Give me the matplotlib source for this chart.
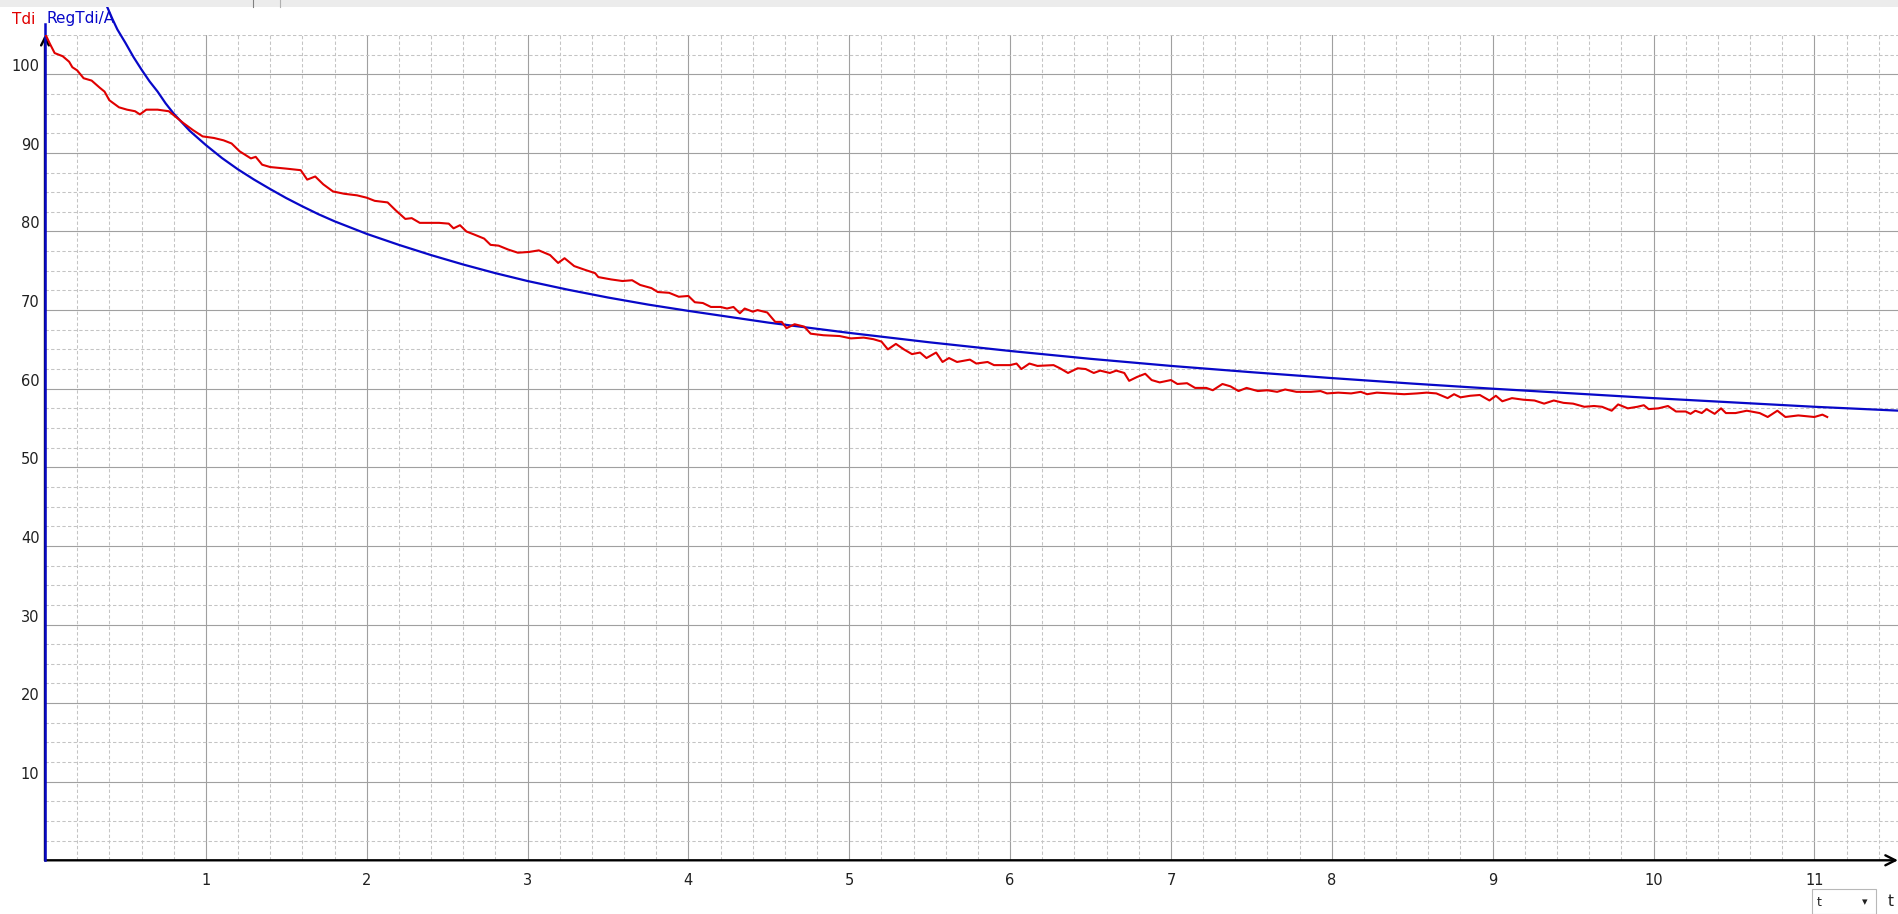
import matplotlib
matplotlib.use("Agg")
import matplotlib.pyplot as plt
from matplotlib.patches import Rectangle
from matplotlib.ticker import MultipleLocator

# measured series Tdi (red)
tdi_t = [0.00, 0.03, 0.06, 0.11, 0.15, 0.17, 0.20, 0.24, 0.29, 0.34, 0.37, 0.40, 0.46, 0.51, 0.56, 0.59,
         0.63, 0.70, 0.77, 0.80, 0.86, 0.92, 0.98, 1.05, 1.11, 1.16, 1.21, 1.28, 1.31, 1.35, 1.40, 1.50,
         1.59, 1.63, 1.68, 1.73, 1.79, 1.86, 1.94, 2.00, 2.05, 2.13, 2.18, 2.24, 2.28, 2.33, 2.45, 2.51,
         2.54, 2.58, 2.62, 2.67, 2.73, 2.77, 2.82, 2.88, 2.94, 3.01, 3.07, 3.14, 3.19, 3.23, 3.29, 3.36,
         3.42, 3.44, 3.52, 3.59, 3.65, 3.70, 3.77, 3.81, 3.88, 3.94, 4.00, 4.04, 4.09, 4.14, 4.20, 4.24,
         4.28, 4.32, 4.35, 4.40, 4.43, 4.49, 4.54, 4.58, 4.61, 4.66, 4.72, 4.76, 4.84, 4.94, 5.01, 5.09,
         5.15, 5.20, 5.24, 5.29, 5.34, 5.39, 5.44, 5.48, 5.54, 5.58, 5.62, 5.67, 5.75, 5.79, 5.86, 5.90,
         6.00, 6.04, 6.07, 6.12, 6.17, 6.27, 6.31, 6.36, 6.42, 6.47, 6.52, 6.56, 6.62, 6.66, 6.71, 6.74,
         6.79, 6.84, 6.88, 6.93, 7.00, 7.04, 7.10, 7.15, 7.22, 7.26, 7.32, 7.37, 7.42, 7.47, 7.54, 7.60,
         7.66, 7.71, 7.78, 7.87, 7.93, 7.97, 8.04, 8.12, 8.18, 8.22, 8.28, 8.36, 8.45, 8.53, 8.59, 8.65,
         8.72, 8.76, 8.80, 8.86, 8.92, 8.98, 9.02, 9.06, 9.12, 9.19, 9.26, 9.32, 9.38, 9.44, 9.50, 9.57,
         9.63, 9.68, 9.74, 9.78, 9.84, 9.90, 9.94, 9.97, 10.03, 10.09, 10.14, 10.20, 10.23, 10.26, 10.30,
         10.33, 10.38, 10.42, 10.45, 10.51, 10.58, 10.66, 10.71, 10.77, 10.82, 10.90, 11.00, 11.05, 11.08]
tdi_v = [105.2, 103.9, 102.7, 102.3, 101.6, 100.9, 100.5, 99.5, 99.2, 98.3, 97.8, 96.7, 95.8, 95.5, 95.3, 94.9,
         95.5, 95.5, 95.3, 94.8, 93.8, 92.9, 92.1, 91.9, 91.6, 91.2, 90.2, 89.3, 89.5, 88.5, 88.2, 88.0,
         87.8, 86.6, 87.0, 86.0, 85.1, 84.8, 84.6, 84.3, 83.9, 83.7, 82.7, 81.6, 81.7, 81.1, 81.1, 81.0,
         80.4, 80.8, 80.0, 79.6, 79.1, 78.3, 78.2, 77.7, 77.3, 77.4, 77.6, 77.0, 76.0, 76.6, 75.6, 75.1,
         74.7, 74.2, 73.9, 73.7, 73.8, 73.2, 72.8, 72.3, 72.2, 71.7, 71.8, 71.0, 70.9, 70.4, 70.4, 70.2,
         70.4, 69.6, 70.2, 69.8, 70.0, 69.7, 68.5, 68.5, 67.7, 68.2, 67.9, 67.0, 66.8, 66.7, 66.4, 66.5,
         66.3, 66.0, 65.0, 65.7, 65.0, 64.4, 64.6, 63.9, 64.6, 63.4, 63.9, 63.4, 63.7, 63.2, 63.4, 63.0,
         63.0, 63.2, 62.5, 63.2, 62.9, 63.0, 62.6, 62.0, 62.6, 62.5, 62.0, 62.3, 62.0, 62.3, 62.0, 61.0,
         61.5, 61.9, 61.1, 60.8, 61.1, 60.6, 60.7, 60.1, 60.1, 59.8, 60.6, 60.3, 59.7, 60.1, 59.7, 59.8,
         59.6, 59.9, 59.6, 59.6, 59.7, 59.4, 59.5, 59.4, 59.6, 59.3, 59.5, 59.4, 59.3, 59.4, 59.5, 59.4,
         58.8, 59.3, 58.9, 59.1, 59.2, 58.5, 59.1, 58.4, 58.8, 58.6, 58.5, 58.1, 58.5, 58.2, 58.1, 57.7,
         57.8, 57.7, 57.2, 58.0, 57.5, 57.7, 57.9, 57.4, 57.5, 57.8, 57.1, 57.1, 56.8, 57.2, 56.9,
         57.4, 56.8, 57.5, 56.9, 56.9, 57.2, 56.9, 56.4, 57.2, 56.4, 56.6, 56.4, 56.7, 56.4]

# regression RegTdi/A (blue)
reg_t = [0.386, 0.42, 0.45, 0.50, 0.55, 0.60, 0.65, 0.70, 0.75, 0.80, 0.85, 0.90, 0.95, 1.0, 1.1, 1.2,
         1.3, 1.4, 1.5, 1.6, 1.7, 1.8, 1.9, 2.0, 2.2, 2.4, 2.6, 2.8, 3.0, 3.25, 3.5, 3.75, 4.0, 4.5, 5.0,
         5.5, 6.0, 6.5, 7.0, 7.5, 8.0, 8.5, 9.0, 9.5, 10.0, 10.5, 11.0, 11.53]
reg_v = [108.6, 107.0, 105.7, 104.0, 102.2, 100.6, 99.1, 97.8, 96.3, 95.0, 93.9, 92.8, 91.9, 91.0, 89.35,
         87.9, 86.6, 85.4, 84.25, 83.2, 82.2, 81.3, 80.5, 79.7, 78.3, 77.0, 75.8, 74.7, 73.7, 72.6, 71.6,
         70.7, 69.9, 68.4, 67.1, 65.9, 64.8, 63.8, 62.9, 62.1, 61.35, 60.65, 60.0, 59.4, 58.8, 58.25, 57.7,
         57.2]

x_ticks = [1, 2, 3, 4, 5, 6, 7, 8, 9, 10, 11]
y_ticks = [10, 20, 30, 40, 50, 60, 70, 80, 90, 100]

W, H = 1898, 914
fig = plt.figure(figsize=(W / 100, H / 100), dpi=100)
ax = fig.add_axes([45 / W, (H - 860.3) / H, (W - 45) / W, (860.3 - 35) / H])
ax.set_xlim(0, 11.52)
ax.set_ylim(0, 105)
for s in ax.spines.values():
    s.set_visible(False)

ax.set_xticks(x_ticks)
ax.set_xticklabels([str(v) for v in x_ticks])
ax.set_yticks(y_ticks)
ax.set_yticklabels([str(v) for v in y_ticks])
ax.xaxis.set_minor_locator(MultipleLocator(0.2))
ax.yaxis.set_minor_locator(MultipleLocator(2.5))
ax.tick_params(which="both", length=0)
ax.tick_params(axis="x", pad=9, labelsize=10.5, labelcolor="#202020")
ax.tick_params(axis="y", pad=4, labelsize=10.5, labelcolor="#202020")
for lbl in ax.get_yticklabels():
    lbl.set_va("bottom")

ax.grid(which="major", color="#a0a0a0", lw=0.8)
ax.grid(which="minor", color="#c4c4c4", lw=0.75, ls=(0, (3.2, 2.2)))
ax.set_axisbelow(True)

# axes with arrows
ax.annotate("", xy=(11.52, 0), xytext=(0, 0), annotation_clip=False,
            arrowprops=dict(arrowstyle="->", lw=1.7, color="black", mutation_scale=18, shrinkA=0, shrinkB=0))
ax.annotate("", xy=(0, 105), xytext=(0, 0), annotation_clip=False,
            arrowprops=dict(arrowstyle="->", lw=1.7, color="black", mutation_scale=14, shrinkA=0, shrinkB=0))

blue = "#0808c8"
red = "#e00000"
ax.plot([0, 0], [0, 106.4], color=blue, lw=1.8, clip_on=False, zorder=4)
ax.plot(reg_t, reg_v, color=blue, lw=1.6, clip_on=False, zorder=4)
ax.plot(tdi_t, tdi_v, color=red, lw=1.5, zorder=5)

# header strip and legend text
fig.patches.append(Rectangle((0, 1 - 7 / H), 1, 7 / H, transform=fig.transFigure,
                             facecolor="#ececec", edgecolor="none", zorder=10))
fig.lines.append(plt.Line2D([253 / W, 253 / W], [1 - 7 / H, 1], transform=fig.transFigure,
                            color="#808080", lw=0.8, zorder=11))
fig.lines.append(plt.Line2D([280 / W, 280 / W], [1 - 7 / H, 1], transform=fig.transFigure,
                            color="#b0b0b0", lw=0.8, zorder=11))
fig.text(12 / W, 1 - 19 / H, "Tdi", color=red, fontsize=11, va="center")
fig.text(47 / W, 1 - 19 / H, "RegTdi/A", color=blue, fontsize=11, va="center")

# selector box at the bottom right
fig.patches.append(Rectangle((1812 / W, 0), 64 / W, 25 / H, transform=fig.transFigure,
                             facecolor="white", edgecolor="#b8b8b8", lw=0.8))
fig.text(1817 / W, 12 / H, "t", fontsize=9, va="center", color="#202020")
fig.text(1862 / W, 12 / H, "▾", fontsize=8, va="center", color="#202020")
fig.text(1888 / W, 13 / H, "t", fontsize=11, va="center", color="#202020")

fig.savefig("out.png", dpi=100, facecolor="white")
